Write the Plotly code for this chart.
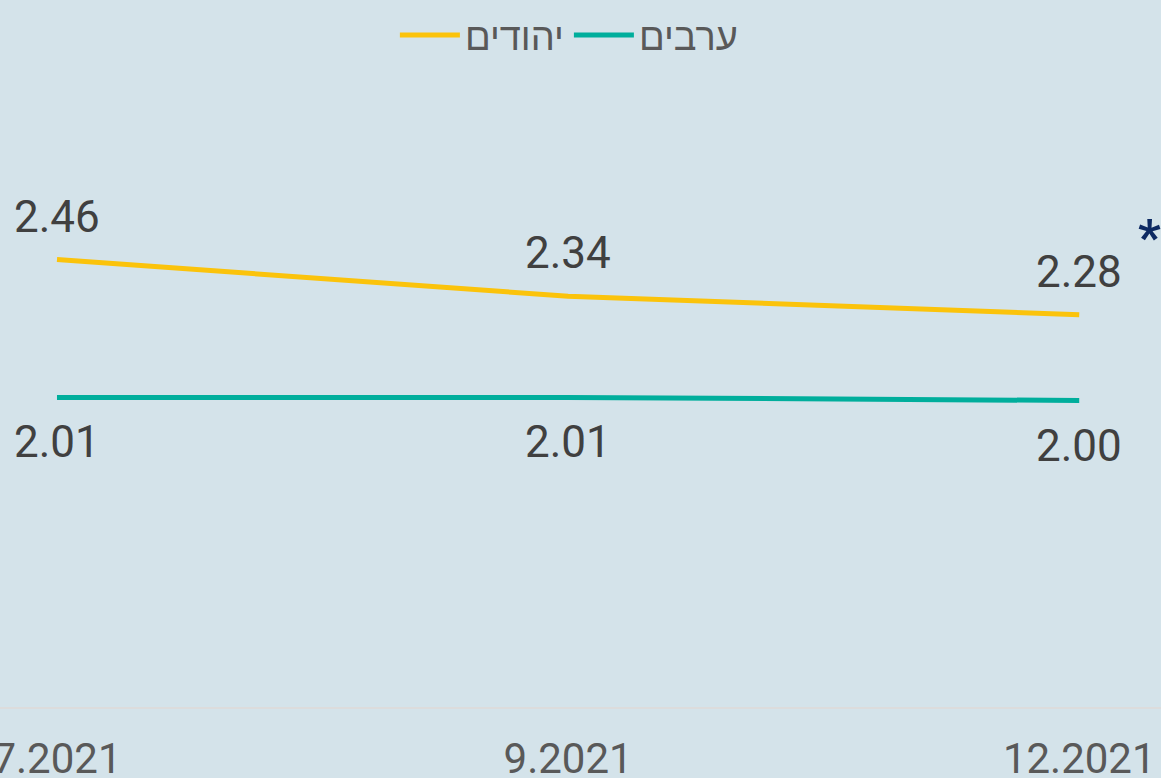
import plotly.graph_objects as go

periods = ["7.2021", "9.2021", "12.2021"]
jews = [2.46, 2.34, 2.28]
arabs = [2.01, 2.01, 2.00]
x_pos = [0, 1, 2]

BG = "#d4e3ea"
YELLOW = "#fbc30b"
TEAL = "#00ae9c"
FONT = "Roboto, 'Liberation Sans', 'DejaVu Sans', sans-serif"

fig = go.Figure()

fig.add_trace(go.Scatter(x=x_pos, y=jews, name="יהודים", mode="lines",
                         line=dict(color=YELLOW, width=5)))
fig.add_trace(go.Scatter(x=x_pos, y=arabs, name="ערבים", mode="lines",
                         line=dict(color=TEAL, width=5)))

# value labels
for xv, yv in zip(x_pos, jews):
    fig.add_annotation(x=xv, y=yv, text=f"{yv:.2f}", showarrow=False, yshift=43,
                       font=dict(size=44, color="#404040", family=FONT))
for xv, yv in zip(x_pos, arabs):
    fig.add_annotation(x=xv, y=yv, text=f"{yv:.2f}", showarrow=False, yshift=-45,
                       font=dict(size=44, color="#404040", family=FONT))

fig.add_annotation(xref="paper", yref="paper", x=0.9905, y=0.765, text="<b>*</b>",
                   showarrow=False, xanchor="center", yanchor="middle",
                   font=dict(size=50, color="#0d2a63", family=FONT))

fig.update_layout(
    width=1161, height=778,
    paper_bgcolor=BG, plot_bgcolor=BG,
    margin=dict(l=0, r=0, t=94, b=71, autoexpand=False),
    font=dict(family=FONT, color="#595959"),
    legend=dict(orientation="h", yref="container", xref="container",
                x=0.49, xanchor="center", y=0.995, yanchor="top", itemwidth=60,
                font=dict(size=38, color="#595959"), bgcolor="rgba(0,0,0,0)"),
    showlegend=True,
)
fig.update_xaxes(range=[-0.1115, 2.16], tickvals=x_pos, ticktext=periods,
                 showgrid=False, zeroline=False, showline=True, linecolor="#dcdcdc",
                 linewidth=2, ticks="outside", ticklen=14, tickcolor="rgba(0,0,0,0)",
                 ticklabeloverflow="allow", automargin=False,
                 tickfont=dict(size=42, color="#595959"))
fig.update_yaxes(range=[1, 3], visible=False, showgrid=False, automargin=False)

fig.write_html("out.html", config={"displayModeBar": False},
               post_script="document.body.style.margin='0';")
